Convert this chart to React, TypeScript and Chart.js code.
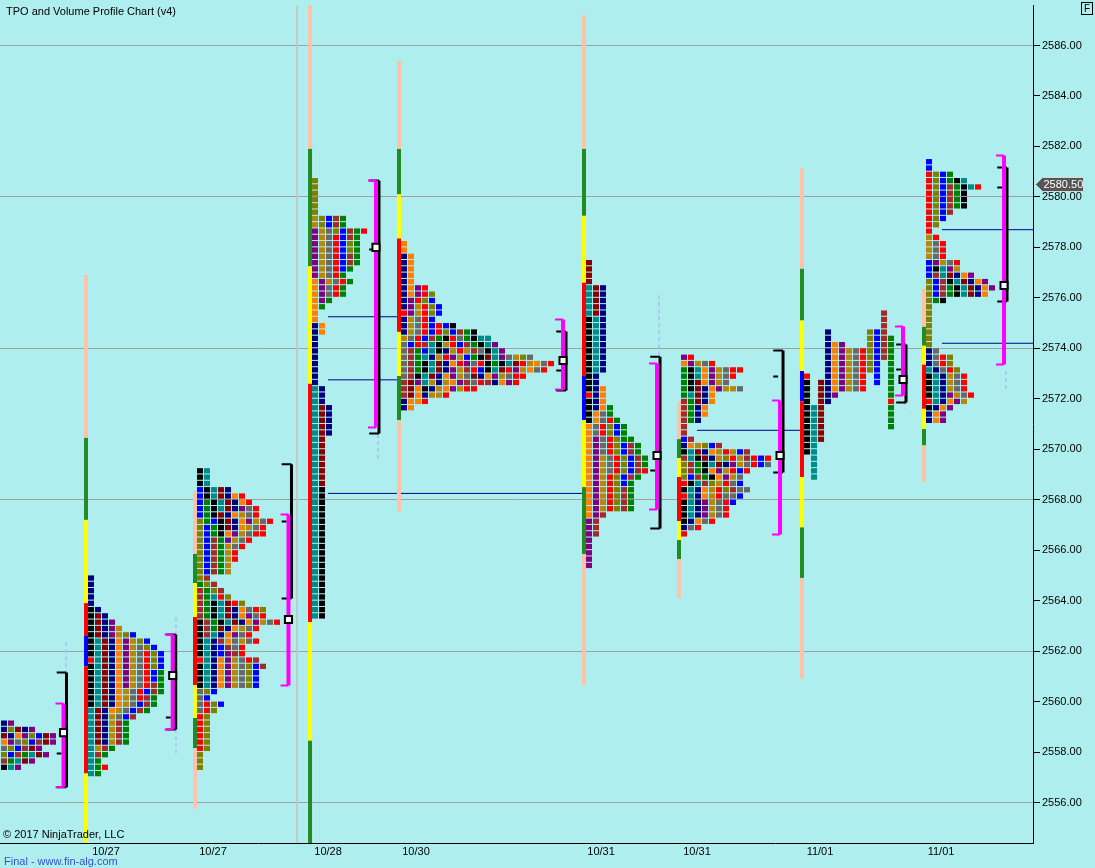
import React, { useEffect, useRef } from 'react';
import { Chart, registerables } from 'chart.js';

Chart.register(...registerables);

// ---------------- axis data ----------------
const yTickValues = [2556, 2558, 2560, 2562, 2564, 2566, 2568, 2570, 2572, 2574, 2576, 2578, 2580, 2582, 2584, 2586];
const yGridValues = [2556, 2562, 2568, 2574, 2580, 2586];
const xTickPos = [15.14, 30.43, 46.86, 59.43, 85.86, 99.57, 117.14, 134.43];
const xTickLabels = ['10/27', '10/27', '10/28', '10/30', '10/31', '10/31', '11/01', '11/01'];
const lastPrice = 2580.5;

// ---------------- TPO profiles (letters = period colours, '.' = empty) ----------------
const profileStart = [0.57, 13, 28.57, 45, 57.71, 84.14, 97.71, 115.29, 132.71];
const profileTop = [2559.25, 2565.0, 2569.25, 2580.75, 2578.25, 2577.5, 2573.75, 2575.5, 2581.5];

const p1Rows = ['NP', 'NLMNP', 'MNOPLBMP', 'OPDLBWMP', 'DLBWMP', 'LBWETMP', 'WETMP', 'KTP'];
const p2Rows = ['N', 'N', 'N', 'N', 'N', 'KN', 'KMN', 'KMNP', 'KMNPG', 'KMNPGLB', 'KTMNOPGLB', 'KTMNOPGDLB',
  'KTMNOPGDRLB', 'RTMNOPGDRLB', 'KTMNOPGDRLB', 'KTMNOPGDRBE', 'KTMNOPGDRBE', 'KTMNOPGDRWE', 'KTMNOGDRBWE',
  'KTMNOGDRWE', 'KTMNOGDBWE', 'TMNOGDBWE', 'TMNGDBW', 'TMNGWE', 'TMNGWE', 'TMNGWE', 'TMNGWE', 'TGWE', 'TWE',
  'TE', 'TER', 'TE'];
const p3Rows = ['KT', 'KT', 'KT', 'BKTMN', 'BKTMNOR', 'BEKTMNOR', 'BEKTMNPDR', 'BEKMNOGDR', 'LEBKMNOPGDR',
  'LBEKMNOGDR', 'LBEKOPGDRR', 'LBWEPGDR', 'LBWEGDR', 'LBWEGR', 'LBWEGR', 'LBWEG', 'LBWEG', 'LW', 'ELW', 'WELW',
  'WETRL', 'WEKTMRL', 'WEKTMNODRL', 'WEKTMNOPDR', 'KWEKTMNOPGDR', 'KWEMNOGDR', 'KWTNOPDR', 'KTNWODGDR',
  'KTNBWDR', 'KTNBPWR', 'RTNOPGDRW', 'KTNOPGDLBW', 'KTNOPGDLB', 'KTNOPGDLB', 'KTNOPGDLB', 'DLB', 'DB', 'DRLB',
  'DRL', 'RL', 'RL', 'RL', 'RL', 'RL', 'RL', 'L', 'L', 'L'];
const p4Rows = ['L', 'L', 'L', 'L', 'L', 'L', 'GLBWE', 'GLBWE', 'PGDLBWER', 'PGDRBWE', 'PGDRBLE', 'PGDRBLE',
  'PGDRBWE', 'PGDRBWE', 'PGDRBE', 'PGDRE', 'OPGDRE', 'OPDRE', 'OPDRE', 'OPE', 'OE', 'O', 'O', 'NO', 'NO',
  'N', 'N', 'N', 'N', 'N', 'N', 'N', 'N', 'TN', 'TN', 'TN', 'TMN', 'TMN', 'TMN', 'TMN', 'TMN', 'TM', 'TM',
  'TM', 'TM', 'TM', 'TM', 'TM', 'TM', 'TK', 'TK', 'TK', 'TK', 'TK', 'TK', 'TK', 'TK', 'TK', 'TK', 'TK',
  'TK', 'TK', 'TK', 'TK', 'TK', 'TK', 'TK', 'TK', 'TK', 'TK'];
const p5Rows = ['O', 'O', 'NO', 'NO', 'NO', 'NO', 'NO', 'NOPR', 'NOPRL', 'NPRLB', 'NPGRLB', 'RPGRLB', 'NGDRB',
  'NGDRBRBK', 'NGDRBRLBWEK', 'GDRBWEKRDEKTT', 'DBRWTKGRBWEKTP', 'DWEBTKNGRGWDKTP', 'DWETNGRPGBEKMTPDGLD',
  'DWEKTMNORPDRKEKTMRGODR', 'DWEKTMNPGWRBKTMRPGODR', 'DWKTMNOPGDMNOPGDRR', 'WMPTGNGOPWDRWNOPR',
  'WMOKNGOPGRR', 'WMONGGR', 'NOOR', 'NO'];
const p6Rows = ['M', 'M', 'M', 'M', 'TMN', 'TMN', 'TMN', 'TMN', 'TMN', 'KTN', 'KTN', 'KTN', 'KTN', 'KTN', 'KTN',
  'KTN', 'KTN', 'KTN', 'KN', 'KN', 'KNO', 'RNO', 'KNO', 'KNOE', 'KODE', 'KODRE', 'ODRLBE', 'ODRLBE', 'OPDRLEE',
  'OPDRLBWE', 'OPDRLBWE', 'OPGDRLBWE', 'OPGDRLBWE', 'OPGDRLBWR', 'OPGRLBWE', 'OPGRLBE', 'OPGRLWE', 'OPGRLWE',
  'OPGRLWE', 'OPGRLWE', 'OPW', 'PW', 'PW', 'PW', 'P', 'P', 'P', 'P', 'P'];
const p7Rows = ['PR', 'OPGDR', 'EKTOPGDRR', 'EKTOPGDR', 'EKMOPGD', 'EKMNOPGGD', 'ETMNO', 'WEMNO', 'WENO', 'WENO',
  'WEN', 'W', 'W', 'BW', 'NOGLBW', 'KTMNOGRGBW', 'WTKMNGLRGWRBR', 'LWEKTMNPGDRBD', 'LWEKOPGRBR', 'LBWEKOPGD',
  'RKTWLGRDB', 'KTNOGRLWDD', 'RTNOGRDDB', 'KTNPGDRB', 'KTNPGDR', 'KTNPGDR', 'KNODR', 'NDR', 'R'];
const p8Rows = ['...........W', '...........W', '...........W', '...N.....LBW', '...N.....LBWE',
  '...NOP...LBWE', '...NOPGDRLBWE', '...NOPGDRLBWE', '...NOPGDRLB.E', '...NOPGDRLB.E', 'R..NOPGDR.B.E',
  'K.MNOPGDR.B.E', 'K.MNOPGDR...E', 'K.MNP.......E', 'K.MN........R', 'KTM.........E', 'KTM.........E',
  'KTM.........E', 'KTM.........E', 'KTM', 'KTM', 'KT', 'KT', '.T', '.T', '.T', '.T'];
const p9Rows = ['B', 'B', 'RLBE', 'RLBEKT', 'RLBWEKTR', 'RLBWEK', 'RLBWEK', 'RLBWEK', 'RLBW', 'RLB', 'RL', 'R',
  'GR', 'GDR', 'GDR', 'GDR', 'BPGDR', 'BKTPG', 'BWTMNOP', 'LBWKTMNOP', 'LBWEKTMNOP', 'LBWEKTMNO', 'LEK',
  'L', 'L', 'L', 'L', 'L', 'L', 'L', 'ND', 'NDRL', 'NDRL', 'TNDRL', 'KTNGDR', 'KTNGDR', 'KTNGDR', 'KTNPGDR',
  'RTNOPG', 'KNOP', 'NOP', 'NOP'];
const profileRows = [p1Rows, p2Rows, p3Rows, p4Rows, p5Rows, p6Rows, p7Rows, p8Rows, p9Rows];

// ---------------- session range bars ----------------
const sessBarX = [12.29, 27.86, 44.29, 57.0, 83.43, 97.0, 114.57, 132.0];
const sessBarEdges = [
  [2576.9, 2570.45, 2567.2, 2563.9, 2562.6, 2561.4, 2557.15, 2554.0],
  [2568.35, 2565.85, 2564.7, 2563.35, 2560.65, 2559.35, 2558.15, 2555.75],
  [2587.6, 2581.9, 2577.25, 2572.6, 2563.15, 2558.45, 2554.0],
  [2585.4, 2581.9, 2580.1, 2578.35, 2574.65, 2572.9, 2571.15, 2567.55],
  [2587.2, 2581.9, 2579.25, 2576.6, 2572.9, 2571.15, 2568.5, 2565.85, 2560.65],
  [2571.9, 2570.4, 2569.65, 2568.9, 2567.15, 2566.4, 2565.65, 2564.1],
  [2581.15, 2577.15, 2575.1, 2573.1, 2571.9, 2568.9, 2566.9, 2564.9, 2560.9],
  [2576.35, 2574.85, 2574.1, 2573.35, 2571.6, 2570.8, 2570.15, 2568.7],
];
const sessBarColors = ['sgyrbry', 'sgyrygs', 'sgyryg', 'sgyrygs', 'sgyrbygs', 'sgyrygs', 'sgybrygs', 'sgyrygs'];

// ---------------- value area / range brackets, POC ----------------
const vaX = [9.07, 24.67, 41.21, 53.71, 80.43, 93.86, 111.43, 129.0, 143.43];
const vaHigh = [2559.92, 2562.66, 2567.41, 2580.65, 2575.14, 2573.4, 2571.93, 2574.86, 2581.64];
const vaLow = [2556.6, 2558.89, 2560.64, 2570.86, 2572.37, 2567.61, 2566.62, 2572.13, 2573.36];
const rangeHigh = [2561.15, 2562.66, 2569.4, 2580.65, 2574.67, 2573.67, 2573.91, 2574.15, 2581.17];
const rangeLow = [2556.6, 2558.89, 2564.08, 2570.62, 2572.33, 2566.86, 2569.08, 2571.85, 2575.85];
const rangeMid = [2557.94, 2559.37, 2567.14, 2577.92, 2573.12, 2569.16, 2572.88, 2573.16, 2580.37];
const pocPrice = [2558.77, 2561.03, 2563.25, 2578.0, 2573.52, 2569.75, 2569.75, 2572.76, 2576.49];

// ---------------- naked POC lines ----------------
const nakedPrice = [2575.25, 2572.75, 2568.25, 2570.75, 2578.7, 2574.2];
const nakedFrom = [46.86, 46.86, 46.86, 99.57, 134.57, 134.57];
const nakedTo = [57.14, 57.14, 83.29, 114.29, 147.57, 147.57];

// ---------------- dashed markers & session break ----------------
const dashX = [9.43, 25.14, 54.0, 94.14, 129.29, 143.71];
const dashHigh = [2562.35, 2563.35, 2570.6, 2576.1, 2573.3, 2573.1];
const dashLow = [2561.2, 2557.95, 2569.55, 2573.7, 2571.6, 2572.3];
const breakX = [42.43];

// ---------------- styles ----------------
const FONT = "'Liberation Sans', Arial, sans-serif";
const TPO_COLORS: Record<string, string> = {
  N: '#000080', K: '#000000', T: '#008B8B', M: '#8B0000', O: '#FF8000', P: '#800080', G: '#B8860B',
  D: '#696969', R: '#FF0000', L: '#808000', B: '#0000FF', W: '#A52A2A', E: '#008000',
};
const BAR_COLORS: Record<string, string> = { s: '#FFC2A6', g: '#228B22', y: '#FFFF00', r: '#FF0000', b: '#0000FF' };
const X_MAX = 147.57;
const Y_MIN = 2554.395;
const Y_MAX = 2587.605;

type Pt = { x: number; y: number | null };

function buildDatasets() {
  const squares: { x: number; y: [number, number] }[] = [];
  const squareColors: string[] = [];
  profileRows.forEach((rows, pi) => {
    rows.forEach((row, ri) => {
      const price = profileTop[pi] - ri * 0.25;
      row.split('').forEach((ch, ci) => {
        if (ch === '.') return;
        squares.push({ x: profileStart[pi] + ci, y: [price - 0.21, price] });
        squareColors.push(TPO_COLORS[ch]);
      });
    });
  });

  const barSegs: { x: number; y: [number, number] }[] = [];
  const barSegColors: string[] = [];
  sessBarX.forEach((x, i) => {
    const e = sessBarEdges[i];
    for (let k = 0; k < e.length - 1; k++) {
      barSegs.push({ x, y: [e[k + 1], e[k]] });
      barSegColors.push(BAR_COLORS[sessBarColors[i][k]]);
    }
  });

  const magV: Pt[] = [];
  const magT: Pt[] = [];
  const blkV: Pt[] = [];
  const blkT: Pt[] = [];
  const poc: Pt[] = [];
  vaX.forEach((x, i) => {
    const bx = x + 0.43;
    magV.push({ x, y: vaHigh[i] }, { x, y: vaLow[i] }, { x, y: null });
    magT.push({ x: x - 1.14, y: vaHigh[i] }, { x, y: vaHigh[i] }, { x, y: null });
    magT.push({ x: x - 1.14, y: vaLow[i] }, { x, y: vaLow[i] }, { x, y: null });
    blkV.push({ x: bx, y: rangeHigh[i] }, { x: bx, y: rangeLow[i] }, { x: bx, y: null });
    blkT.push({ x: bx - 1.4, y: rangeHigh[i] }, { x: bx, y: rangeHigh[i] }, { x: bx, y: null });
    blkT.push({ x: bx - 1.4, y: rangeLow[i] }, { x: bx, y: rangeLow[i] }, { x: bx, y: null });
    blkT.push({ x: bx - 1.4, y: rangeMid[i] }, { x: bx - 0.7, y: rangeMid[i] }, { x: bx, y: null });
    poc.push({ x, y: pocPrice[i] });
  });

  const naked: Pt[] = [];
  nakedPrice.forEach((p, i) => {
    naked.push({ x: nakedFrom[i], y: p }, { x: nakedTo[i], y: p }, { x: nakedTo[i], y: null });
  });
  const dashes: Pt[] = [];
  dashX.forEach((x, i) => {
    dashes.push({ x, y: dashHigh[i] }, { x, y: dashLow[i] }, { x, y: null });
  });
  const breaks: Pt[] = [];
  breakX.forEach((x) => breaks.push({ x, y: Y_MAX }, { x, y: Y_MIN }, { x, y: null }));

  const line = (data: Pt[], color: string, width: number, order: number, dash: number[] = []) => ({
    type: 'line' as const,
    data,
    borderColor: color,
    borderWidth: width,
    borderDash: dash,
    pointRadius: 0,
    fill: false,
    tension: 0,
    spanGaps: false,
    order,
  });

  return [
    line(breaks, '#c4c4c4', 1, 90),
    line(naked, '#000080', 1, 80),
    {
      type: 'bar' as const, data: barSegs, backgroundColor: barSegColors, barThickness: 4, grouped: false,
      borderWidth: 0, inflateAmount: 0, order: 70,
    },
    {
      type: 'bar' as const, data: squares, backgroundColor: squareColors, barThickness: 6, grouped: false,
      borderWidth: 0, inflateAmount: 0, order: 60,
    },
    line(dashes, '#a9bff2', 1.5, 50, [4, 3]),
    line(blkV, '#000000', 3, 40),
    line(blkT, '#000000', 2, 35),
    line(magV, '#FF00FF', 4, 30),
    line(magT, '#FF00FF', 2, 25),
    {
      type: 'scatter' as const, data: poc, pointStyle: 'rect', pointRadius: 5, pointBackgroundColor: '#ffffff',
      pointBorderColor: '#000000', pointBorderWidth: 2, order: 10,
    },
  ];
}

const priceTag = {
  id: 'priceTag',
  afterDraw(chart: any) {
    const { ctx } = chart;
    const y = Math.round(chart.scales.y.getPixelForValue(lastPrice)) + 0.5;
    const x = chart.chartArea.right + 2.5;
    ctx.save();
    ctx.beginPath();
    ctx.moveTo(x, y);
    ctx.lineTo(x + 7, y - 7);
    ctx.lineTo(x + 48, y - 7);
    ctx.lineTo(x + 48, y + 7);
    ctx.lineTo(x + 7, y + 7);
    ctx.closePath();
    ctx.fillStyle = '#555555';
    ctx.fill();
    ctx.strokeStyle = '#d8d8d8';
    ctx.lineWidth = 1;
    ctx.stroke();
    ctx.fillStyle = '#ffffff';
    ctx.font = `11px ${FONT}`;
    ctx.textBaseline = 'middle';
    ctx.textAlign = 'left';
    ctx.fillText(lastPrice.toFixed(2), x + 8, y + 0.5);
    ctx.restore();
  },
};

export default function App() {
  const ref = useRef<HTMLCanvasElement>(null);
  useEffect(() => {
    document.body.style.margin = '0';
    const canvas = ref.current;
    if (!canvas) return;
    const chart = new Chart(canvas, {
      type: 'bar',
      data: { datasets: buildDatasets() as any },
      plugins: [priceTag],
      options: {
        responsive: false,
        animation: false,
        devicePixelRatio: 1,
        events: [],
        layout: { autoPadding: false, padding: { top: 5, left: 0, right: 0, bottom: 0 } },
        plugins: { legend: { display: false }, tooltip: { enabled: false } },
        scales: {
          x: {
            type: 'linear',
            min: 0,
            max: X_MAX,
            offset: false,
            grid: { display: false, drawTicks: false, tickLength: 0 },
            border: { display: true, color: '#000000', width: 1 },
            ticks: {
              autoSkip: false,
              maxRotation: 0,
              minRotation: 0,
              padding: 2,
              color: '#000000',
              font: { family: FONT, size: 11 },
              callback: (_v: any, i: number) => xTickLabels[i] ?? '',
            },
            afterBuildTicks: (s: any) => {
              s.ticks = xTickPos.map((v) => ({ value: v }));
            },
            afterFit: (s: any) => {
              s.height = 25;
              s.paddingLeft = 0;
              s.paddingRight = 0;
            },
          },
          y: {
            type: 'linear',
            position: 'right',
            min: Y_MIN,
            max: Y_MAX,
            grid: {
              color: (c: any) => (c.tick && yGridValues.includes(c.tick.value) ? '#a0a0a0' : 'rgba(0,0,0,0)'),
              lineWidth: 1,
              drawTicks: true,
              tickLength: 7,
              tickColor: '#000000',
              tickWidth: 1,
            },
            border: { display: true, color: '#000000', width: 1 },
            ticks: {
              padding: 2,
              color: '#000000',
              font: { family: FONT, size: 11 },
              callback: (v: any) => Number(v).toFixed(2),
            },
            afterBuildTicks: (s: any) => {
              s.ticks = yTickValues.map((v) => ({ value: v }));
            },
            afterFit: (s: any) => {
              s.width = 62;
              s.paddingTop = 0;
              s.paddingBottom = 0;
            },
          },
        },
      } as any,
    });
    return () => chart.destroy();
  }, []);

  const txt: React.CSSProperties = {
    position: 'absolute', fontFamily: FONT, fontSize: 11, lineHeight: '11px', whiteSpace: 'nowrap', color: '#000',
  };
  return (
    <div style={{ position: 'fixed', left: 0, top: 0, width: 1095, height: 868, background: '#AFEEEE', overflow: 'hidden' }}>
      <canvas ref={ref} width={1095} height={868} style={{ position: 'absolute', left: 0, top: 0, width: 1095, height: 868 }} />
      <div style={{ ...txt, left: 6, top: 6 }}>TPO and Volume Profile Chart (v4)</div>
      <div style={{ ...txt, left: 3, top: 829 }}>© 2017 NinjaTrader, LLC</div>
      <div style={{ ...txt, left: 4, top: 856, color: '#3355CC' }}>Final - www.fin-alg.com</div>
      <div
        style={{
          ...txt, left: 1081, top: 2, width: 10, height: 11, border: '1px solid #000', textAlign: 'center',
          fontSize: 10, lineHeight: '11px',
        }}
      >
        F
      </div>
    </div>
  );
}
